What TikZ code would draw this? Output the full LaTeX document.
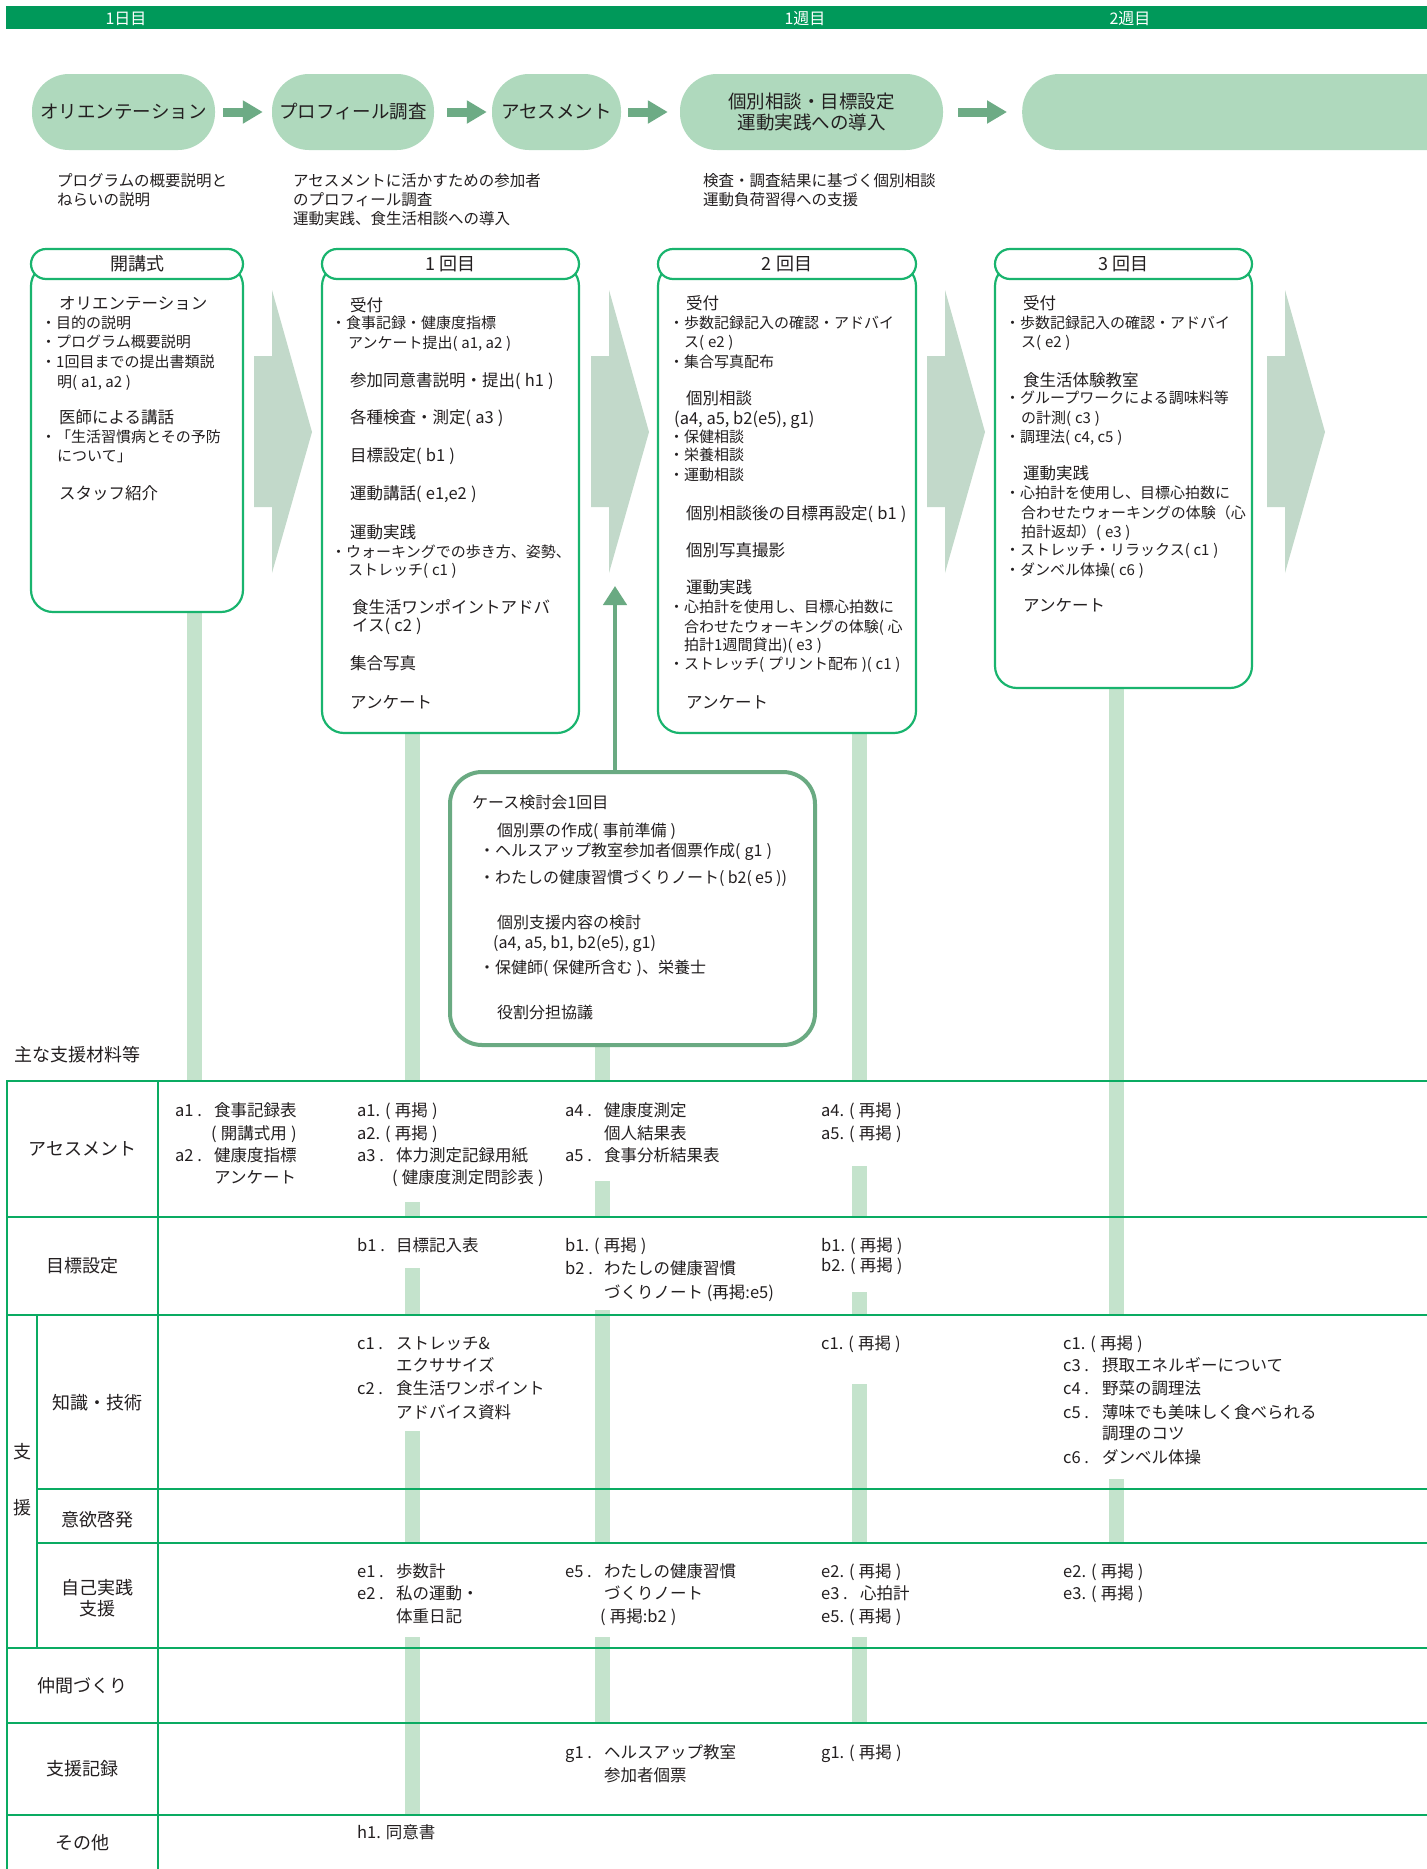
\documentclass[tikz,border=0pt]{standalone}
\usepackage{fontspec}
\setmainfont{Noto Sans CJK JP}
\usetikzlibrary{arrows.meta}
\definecolor{hdr}{HTML}{00995A}
\definecolor{pillfill}{HTML}{AFD9BD}
\definecolor{parrowc}{HTML}{6DAB85}
\definecolor{chev}{HTML}{C2D9CA}
\definecolor{barc}{HTML}{C4E3CC}
\definecolor{boxline}{HTML}{19B46E}
\definecolor{tabline}{HTML}{0AAB62}
\definecolor{casec}{HTML}{6AAA82}
\definecolor{ink}{HTML}{231F20}
\newcommand\pre[1]{\makebox[39pt][l]{#1}}
\newcommand\pa[1]{(\hspace{0.25em}#1\hspace{0.25em})}
\newcommand\rk{\hspace{0.3em}(\hspace{0.25em}再掲\hspace{0.25em})}
\tikzset{
  t/.style={inner sep=0pt, anchor=base west, text=ink},
  tc/.style={inner sep=0pt, anchor=base, text=ink},
  fTop/.style={font=\fontsize{15.5}{18}\selectfont, yshift=-5.9pt},
  fH/.style={font=\fontsize{16.5}{20}\selectfont, yshift=-6.3pt},
  fB/.style={font=\fontsize{15}{18}\selectfont, yshift=-5.7pt},
  fT/.style={font=\fontsize{16.5}{20}\selectfont, yshift=-6.3pt},
  fC/.style={font=\fontsize{16}{20}\selectfont, yshift=-6.1pt},
  fL/.style={font=\fontsize{18}{22}\selectfont, yshift=-6.8pt},
  pill/.style={fill=pillfill, rounded corners=37pt, minimum height=76pt, inner sep=0pt, text=ink, font=\fontsize{18.5}{21}\selectfont, align=center},
  parrow/.style={draw=parrowc, line width=9pt, -{Triangle[width=22pt,length=20pt]}},
  boxbody/.style={draw=boxline, line width=2.2pt, fill=white, rounded corners=22pt, inner sep=0pt},
  boxhead/.style={draw=boxline, line width=2.2pt, fill=white, rounded corners=15pt, minimum height=30pt, inner sep=0pt, text=ink, font=\fontsize{18}{22}\selectfont},
  casebox/.style={draw=casec, line width=4pt, fill=white, rounded corners=32pt, inner sep=0pt},
  uparrow/.style={draw=casec, line width=4.5pt, -{Triangle[width=23pt,length=19pt]}},
  tab/.style={draw=tabline, line width=2.2pt},
}
\begin{document}
\begin{tikzpicture}[x=1pt,y=-1pt]
\useasboundingbox (0,0) rectangle (1427,1869);
\clip (0,0) rectangle (1427,1869);
\fill[white] (0,0) rectangle (1427,1869);
% header bar
\fill[hdr] (6,6) rectangle (1427,29);
\node[tc,fC,text=white] (w1) at (126,18) {1日目};
\node[tc,fC,text=white] (w2) at (805,18) {1週目};
\node[tc,fC,text=white] (w3) at (1130,18) {2週目};
% process pills
\node[pill, minimum width=183pt] (p1) at (123.5,112) {オリエンテーション};
\node[pill, minimum width=162pt] (p2) at (353,112) {プロフィール調査};
\node[pill, minimum width=129pt] (p3) at (556.5,112) {アセスメント};
\node[pill, minimum width=263pt] (p4) at (811.5,112) {個別相談・目標設定\\運動実践への導入};
\node[pill, minimum width=480pt, anchor=west] (p5) at (1022,112) {};
\draw[parrow] ([xshift=8pt]p1.east) -- ([xshift=-9pt]p2.west);
\draw[parrow] ([xshift=13pt]p2.east) -- ([xshift=-5pt]p3.west);
\draw[parrow] ([xshift=7pt]p3.east) -- ([xshift=-12pt]p4.west);
\draw[parrow] ([xshift=15pt]p4.east) -- ([xshift=-15pt]p5.west);
% descriptions
\node[t,fTop] (d1a) at (57,181) {プログラムの概要説明と};
\node[t,fTop] (d1b) at (57,200) {ねらいの説明};
\node[t,fTop] (d2a) at (293,181) {アセスメントに活かすための参加者};
\node[t,fTop] (d2b) at (293,200) {のプロフィール調査};
\node[t,fTop] (d2c) at (293,219) {運動実践、食生活相談への導入};
\node[t,fTop] (d3a) at (703,181) {検査・調査結果に基づく個別相談};
\node[t,fTop] (d3b) at (703,200) {運動負荷習得への支援};
% chevrons
\foreach \L in {254,591,927,1267}{
  \fill[chev] (\L,356) -- (\L+18,356) -- (\L+18,290) -- (\L+58,432) -- (\L+18,573) -- (\L+18,507) -- (\L,507) -- cycle;
}
% vertical bars
\fill[barc] (187,600) rectangle (202,1081);
\fill[barc] (405,700) rectangle (420,1081);
\fill[barc] (405,1202) rectangle (420,1217);
\fill[barc] (405,1268) rectangle (420,1315);
\fill[barc] (405,1431) rectangle (420,1543);
\fill[barc] (405,1637) rectangle (420,1815);
\fill[barc] (595,1040) rectangle (610,1081);
\fill[barc] (595,1181) rectangle (610,1217);
\fill[barc] (595,1310) rectangle (610,1543);
\fill[barc] (595,1637) rectangle (610,1723);
\fill[barc] (852,700) rectangle (867,1081);
\fill[barc] (852,1166) rectangle (867,1217);
\fill[barc] (852,1292) rectangle (867,1315);
\fill[barc] (852,1384) rectangle (867,1543);
\fill[barc] (852,1637) rectangle (867,1723);
\fill[barc] (1109,650) rectangle (1124,1315);
\fill[barc] (1109,1479) rectangle (1124,1543);
% session boxes
\node[boxbody, minimum width=212pt, minimum height=348pt] (b0) at (137,438) {};
\node[boxhead, minimum width=212pt] (b0h) at (137,264) {開講式};
\node[boxbody, minimum width=257pt, minimum height=469pt] (b1) at (450.5,498.5) {};
\node[boxhead, minimum width=257pt] (b1h) at (450.5,264) {1 回目};
\node[boxbody, minimum width=258pt, minimum height=469pt] (b2) at (787,498.5) {};
\node[boxhead, minimum width=258pt] (b2h) at (787,264) {2 回目};
\node[boxbody, minimum width=257pt, minimum height=424pt] (b3) at (1123.5,476) {};
\node[boxhead, minimum width=257pt] (b3h) at (1123.5,264) {3 回目};
% box 0 text
\node[t,fH] (a01) at (59,303) {オリエンテーション};
\node[t,fB] (a02) at (41,323) {・目的の説明};
\node[t,fB] (a03) at (41,342) {・プログラム概要説明};
\node[t,fB] (a04) at (41,362) {・1回目までの提出書類説};
\node[t,fB] (a05) at (57,382) {明\pa{a1, a2}};
\node[t,fH] (a06) at (59,417) {医師による講話};
\node[t,fB] (a07) at (41,437) {・「生活習慣病とその予防};
\node[t,fB] (a08) at (57,456) {について」};
\node[t,fH] (a09) at (59,493) {スタッフ紹介};
% box 1 text
\node[t,fH] (a11) at (350,305) {受付};
\node[t,fB] (a12) at (331,323) {・食事記録・健康度指標};
\node[t,fB] (a13) at (348,343) {アンケート提出\pa{a1, a2}};
\node[t,fH] (a14) at (350,380) {参加同意書説明・提出\pa{h1}};
\node[t,fH] (a15) at (350,417) {各種検査・測定\pa{a3}};
\node[t,fH] (a16) at (350,455) {目標設定\pa{b1}};
\node[t,fH] (a17) at (350,493) {運動講話\pa{e1,e2}};
\node[t,fH] (a18) at (350,532) {運動実践};
\node[t,fB] (a19) at (331,552) {・ウォーキングでの歩き方、姿勢、};
\node[t,fB] (a1a) at (348,570) {ストレッチ\pa{c1}};
\node[t,fH] (a1b) at (352,607) {食生活ワンポイントアドバ};
\node[t,fH] (a1c) at (352,625) {イス\pa{c2}};
\node[t,fH] (a1d) at (350,663) {集合写真};
\node[t,fH] (a1e) at (350,702) {アンケート};
% box 2 text
\node[t,fH] (a21) at (686,303) {受付};
\node[t,fB] (a22) at (669,323) {・歩数記録記入の確認・アドバイ};
\node[t,fB] (a23) at (684,342) {ス\pa{e2}};
\node[t,fB] (a24) at (669,362) {・集合写真配布};
\node[t,fH] (a25) at (686,398) {個別相談};
\node[t,fH] (a26) at (674,418) {(a4, a5, b2(e5), g1)};
\node[t,fB] (a27) at (669,437) {・保健相談};
\node[t,fB] (a28) at (669,455) {・栄養相談};
\node[t,fB] (a29) at (669,475) {・運動相談};
\node[t,fH] (a2a) at (686,513) {個別相談後の目標再設定\pa{b1}};
\node[t,fH] (a2b) at (686,550) {個別写真撮影};
\node[t,fH] (a2c) at (686,587) {運動実践};
\node[t,fB] (a2d) at (669,607) {・心拍計を使用し、目標心拍数に};
\node[t,fB] (a2e) at (684,627) {合わせたウォーキングの体験(\hspace{0.25em}心};
\node[t,fB] (a2f) at (684,645) {拍計1週間貸出)\pa{e3}};
\node[t,fB] (a2g) at (669,664) {・ストレッチ\pa{プリント配布}\pa{c1}};
\node[t,fH] (a2h) at (686,702) {アンケート};
% box 3 text
\node[t,fH] (a31) at (1023,303) {受付};
\node[t,fB] (a32) at (1005,323) {・歩数記録記入の確認・アドバイ};
\node[t,fB] (a33) at (1021,342) {ス\pa{e2}};
\node[t,fH] (a34) at (1023,380) {食生活体験教室};
\node[t,fB] (a35) at (1005,398) {・グループワークによる調味料等};
\node[t,fB] (a36) at (1021,418) {の計測\pa{c3}};
\node[t,fB] (a37) at (1005,437) {・調理法\pa{c4, c5}};
\node[t,fH] (a38) at (1023,473) {運動実践};
\node[t,fB] (a39) at (1005,493) {・心拍計を使用し、目標心拍数に};
\node[t,fB] (a3a) at (1021,513) {合わせたウォーキングの体験（心};
\node[t,fB] (a3b) at (1021,532) {拍計返却）\pa{e3}};
\node[t,fB] (a3c) at (1005,550) {・ストレッチ・リラックス\pa{c1}};
\node[t,fB] (a3d) at (1005,570) {・ダンベル体操\pa{c6}};
\node[t,fH] (a3e) at (1023,605) {アンケート};
% case review box
\node[casebox, minimum width=365pt, minimum height=273pt] (cbox) at (632.5,908.5) {};
\coordinate (uptip) at (615,586);
\draw[uparrow] (cbox.north -| uptip) -- (uptip);
\node[t,fC] (c1) at (472,802) {ケース検討会1回目};
\node[t,fC] (c2) at (497,830) {個別票の作成\pa{事前準備}};
\node[t,fC] (c3) at (479,850) {・ヘルスアップ教室参加者個票作成\pa{g1}};
\node[t,fC] (c4) at (479,877) {・わたしの健康習慣づくりノート(\hspace{0.2em}b2(\hspace{0.2em}e5\hspace{0.2em}))};
\node[t,fC] (c5) at (497,922) {個別支援内容の検討};
\node[t,fC] (c6) at (493,942) {(a4, a5, b1, b2(e5), g1)};
\node[t,fC] (c7) at (479,967) {・保健師\pa{保健所含む}、栄養士};
\node[t,fC] (c8) at (497,1012) {役割分担協議};
% table
\node[t,fL] (tt) at (14,1055) {主な支援材料等};
\draw[tab] (7,1081) -- (1427,1081);
\draw[tab] (7,1217) -- (1427,1217);
\draw[tab] (7,1315) -- (1427,1315);
\draw[tab] (37,1489) -- (1427,1489);
\draw[tab] (37,1543) -- (1427,1543);
\draw[tab] (7,1648) -- (1427,1648);
\draw[tab] (7,1723) -- (1427,1723);
\draw[tab] (7,1815) -- (1427,1815);
\draw[tab] (7,1080) -- (7,1869);
\draw[tab] (158,1080) -- (158,1869);
\draw[tab] (37,1315) -- (37,1648);
% row labels
\node[tc,fL] (r1) at (82.5,1149) {アセスメント};
\node[tc,fL] (r2) at (82.5,1266) {目標設定};
\node[tc,fL] (r3) at (97.5,1403) {知識・技術};
\node[tc,fL] (r4a) at (22,1452) {支};
\node[tc,fL] (r4b) at (22,1508) {援};
\node[tc,fL] (r5) at (97.5,1520) {意欲啓発};
\node[tc,fL] (r6a) at (97.5,1588) {自己実践};
\node[tc,fL] (r6b) at (97.5,1609) {支援};
\node[tc,fL] (r7) at (82.5,1686) {仲間づくり};
\node[tc,fL] (r8) at (82.5,1769) {支援記録};
\node[tc,fL] (r9) at (82.5,1843) {その他};
% column A
\node[t,fT] (x01) at (175,1110) {\pre{a1 .}食事記録表};
\node[t,fT] (x02) at (211,1133) {\pa{開講式用}};
\node[t,fT] (x03) at (175,1155) {\pre{a2 .}健康度指標};
\node[t,fT] (x04) at (214,1177) {アンケート};
% column B
\node[t,fT] (x11) at (357,1110) {a1.\rk};
\node[t,fT] (x12) at (357,1133) {a2.\rk};
\node[t,fT] (x13) at (357,1155) {\pre{a3 .}体力測定記録用紙};
\node[t,fT] (x14) at (392,1177) {\pa{健康度測定問診表}};
\node[t,fT] (x15) at (357,1245) {\pre{b1 .}目標記入表};
\node[t,fT] (x16) at (357,1343) {\pre{c1 .}ストレッチ\&};
\node[t,fT] (x17) at (396,1365) {エクササイズ};
\node[t,fT] (x18) at (357,1388) {\pre{c2 .}食生活ワンポイント};
\node[t,fT] (x19) at (396,1412) {アドバイス資料};
\node[t,fT] (x1a) at (357,1571) {\pre{e1 .}歩数計};
\node[t,fT] (x1b) at (357,1593) {\pre{e2 .}私の運動・};
\node[t,fT] (x1c) at (396,1616) {体重日記};
\node[t,fT] (x1d) at (357,1832) {h1.\hspace{0.3em}同意書};
% column C
\node[t,fT] (x21) at (565,1110) {\pre{a4 .}健康度測定};
\node[t,fT] (x22) at (604,1133) {個人結果表};
\node[t,fT] (x23) at (565,1155) {\pre{a5 .}食事分析結果表};
\node[t,fT] (x24) at (565,1245) {b1.\rk};
\node[t,fT] (x25) at (565,1268) {\pre{b2 .}わたしの健康習慣};
\node[t,fT] (x26) at (604,1292) {づくりノート (再掲:e5)};
\node[t,fT] (x27) at (565,1571) {\pre{e5 .}わたしの健康習慣};
\node[t,fT] (x28) at (604,1593) {づくりノート};
\node[t,fT] (x29) at (600,1616) {\pa{再掲:b2}};
\node[t,fT] (x2a) at (565,1752) {\pre{g1 .}ヘルスアップ教室};
\node[t,fT] (x2b) at (604,1775) {参加者個票};
% column D
\node[t,fT] (x31) at (821,1110) {a4.\rk};
\node[t,fT] (x32) at (821,1133) {a5.\rk};
\node[t,fT] (x33) at (821,1245) {b1.\rk};
\node[t,fT] (x34) at (821,1265) {b2.\rk};
\node[t,fT] (x35) at (821,1343) {c1.\rk};
\node[t,fT] (x36) at (821,1571) {e2.\rk};
\node[t,fT] (x37) at (821,1593) {\pre{e3 .}心拍計};
\node[t,fT] (x38) at (821,1616) {e5.\rk};
\node[t,fT] (x39) at (821,1752) {g1.\rk};
% column E
\node[t,fT] (x41) at (1063,1343) {c1.\rk};
\node[t,fT] (x42) at (1063,1365) {\pre{c3 .}摂取エネルギーについて};
\node[t,fT] (x43) at (1063,1388) {\pre{c4 .}野菜の調理法};
\node[t,fT] (x44) at (1063,1412) {\pre{c5 .}薄味でも美味しく食べられる};
\node[t,fT] (x45) at (1102,1433) {調理のコツ};
\node[t,fT] (x46) at (1063,1457) {\pre{c6 .}ダンベル体操};
\node[t,fT] (x47) at (1063,1571) {e2.\rk};
\node[t,fT] (x48) at (1063,1593) {e3.\rk};
\end{tikzpicture}
\end{document}
